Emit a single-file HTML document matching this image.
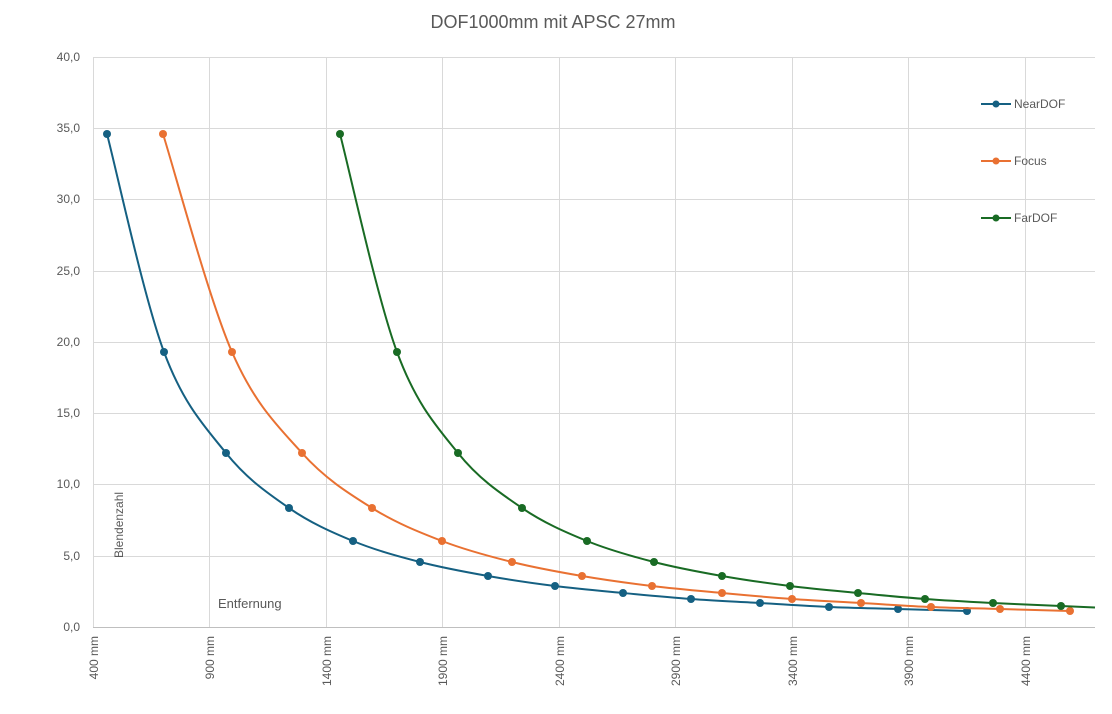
<!DOCTYPE html>
<html><head><meta charset="utf-8"><style>
body{margin:0;background:#fff;}
svg{display:block;font-family:"Liberation Sans",sans-serif;}
</style></head><body>
<svg id="c" width="1112" height="714" viewBox="0 0 1112 714" xmlns="http://www.w3.org/2000/svg">
<rect width="1112" height="714" fill="#fff"/>
<text x="553" y="28" font-size="18" fill="#595959" text-anchor="middle">DOF1000mm mit APSC 27mm</text>
<g stroke="#d9d9d9" stroke-width="1">
<line x1="93" y1="57.5" x2="1095" y2="57.5"/>
<line x1="93" y1="128.5" x2="1095" y2="128.5"/>
<line x1="93" y1="199.5" x2="1095" y2="199.5"/>
<line x1="93" y1="271.5" x2="1095" y2="271.5"/>
<line x1="93" y1="342.5" x2="1095" y2="342.5"/>
<line x1="93" y1="413.5" x2="1095" y2="413.5"/>
<line x1="93" y1="484.5" x2="1095" y2="484.5"/>
<line x1="93" y1="556.5" x2="1095" y2="556.5"/>
<line x1="93.5" y1="57" x2="93.5" y2="627"/>
<line x1="209.5" y1="57" x2="209.5" y2="627"/>
<line x1="326.5" y1="57" x2="326.5" y2="627"/>
<line x1="442.5" y1="57" x2="442.5" y2="627"/>
<line x1="559.5" y1="57" x2="559.5" y2="627"/>
<line x1="675.5" y1="57" x2="675.5" y2="627"/>
<line x1="792.5" y1="57" x2="792.5" y2="627"/>
<line x1="908.5" y1="57" x2="908.5" y2="627"/>
<line x1="1025.5" y1="57" x2="1025.5" y2="627"/>
</g>
<line x1="93" y1="627.5" x2="1095" y2="627.5" stroke="#bfbfbf"/>
<g font-size="12" fill="#595959" text-anchor="end">
<text x="80" y="61">40,0</text><text x="80" y="132">35,0</text><text x="80" y="203">30,0</text>
<text x="80" y="275">25,0</text><text x="80" y="346">20,0</text><text x="80" y="417">15,0</text>
<text x="80" y="488">10,0</text><text x="80" y="560">5,0</text><text x="80" y="631">0,0</text>
</g>
<g font-size="12" fill="#595959" text-anchor="end">
<text transform="translate(98,636) rotate(-90)">400 mm</text>
<text transform="translate(214,636) rotate(-90)">900 mm</text>
<text transform="translate(331,636) rotate(-90)">1400 mm</text>
<text transform="translate(447,636) rotate(-90)">1900 mm</text>
<text transform="translate(564,636) rotate(-90)">2400 mm</text>
<text transform="translate(680,636) rotate(-90)">2900 mm</text>
<text transform="translate(797,636) rotate(-90)">3400 mm</text>
<text transform="translate(913,636) rotate(-90)">3900 mm</text>
<text transform="translate(1030,636) rotate(-90)">4400 mm</text>
</g>
<text x="218" y="608" font-size="13" fill="#595959">Entfernung</text>
<text transform="translate(123,558) rotate(-90)" font-size="12" fill="#595959">Blendenzahl</text>
<g font-size="12" fill="#595959">
<line x1="981" y1="104" x2="1011" y2="104" stroke="#156082" stroke-width="2"/><circle cx="996" cy="104" r="3.5" fill="#156082"/><text x="1014" y="108">NearDOF</text>
<line x1="981" y1="161" x2="1011" y2="161" stroke="#E97132" stroke-width="2"/><circle cx="996" cy="161" r="3.5" fill="#E97132"/><text x="1014" y="165">Focus</text>
<line x1="981" y1="218" x2="1011" y2="218" stroke="#196B24" stroke-width="2"/><circle cx="996" cy="218" r="3.5" fill="#196B24"/><text x="1014" y="222">FarDOF</text>
</g>
<g id="series"></g>
</svg>
<script>
var S=[
["#156082",[[107,134],[164,352],[226,453],[289,508],[353,541],[420,562],[488,576],[555,586],[623,593],[691,599],[760,603],[829,607],[898,609],[967,611]]],
["#E97132",[[163,134],[232,352],[302,453],[372,508],[442,541],[512,562],[582,576],[652,586],[722,593],[792,599],[861,603],[931,607],[1000,609],[1070,611]]],
["#196B24",[[340,134],[397,352],[458,453],[522,508],[587,541],[654,562],[722,576],[790,586],[858,593],[925,599],[993,603],[1061,606]],[1095,607.5]]
];
var g=document.getElementById('series'),ns="http://www.w3.org/2000/svg",h="";
S.forEach(function(s){
 var p=s[1].slice(); if(s[2])p.push(s[2]);
 var d="M"+p[0][0]+","+p[0][1];
 for(var i=0;i<p.length-1;i++){
  var p0=p[i-1]||p[i],p1=p[i],p2=p[i+1],p3=p[i+2]||p2;
  var c1=[p1[0]+(p2[0]-p0[0])/6,p1[1]+(p2[1]-p0[1])/6];
  var c2=[p2[0]-(p3[0]-p1[0])/6,p2[1]-(p3[1]-p1[1])/6];
  d+=" C"+c1+" "+c2+" "+p2;
 }
 h+='<path d="'+d+'" fill="none" stroke="'+s[0]+'" stroke-width="2"/>';
 s[1].forEach(function(q){h+='<circle cx="'+q[0]+'" cy="'+q[1]+'" r="4" fill="'+s[0]+'"/>';});
});
g.innerHTML=h;
</script>
</body></html>
